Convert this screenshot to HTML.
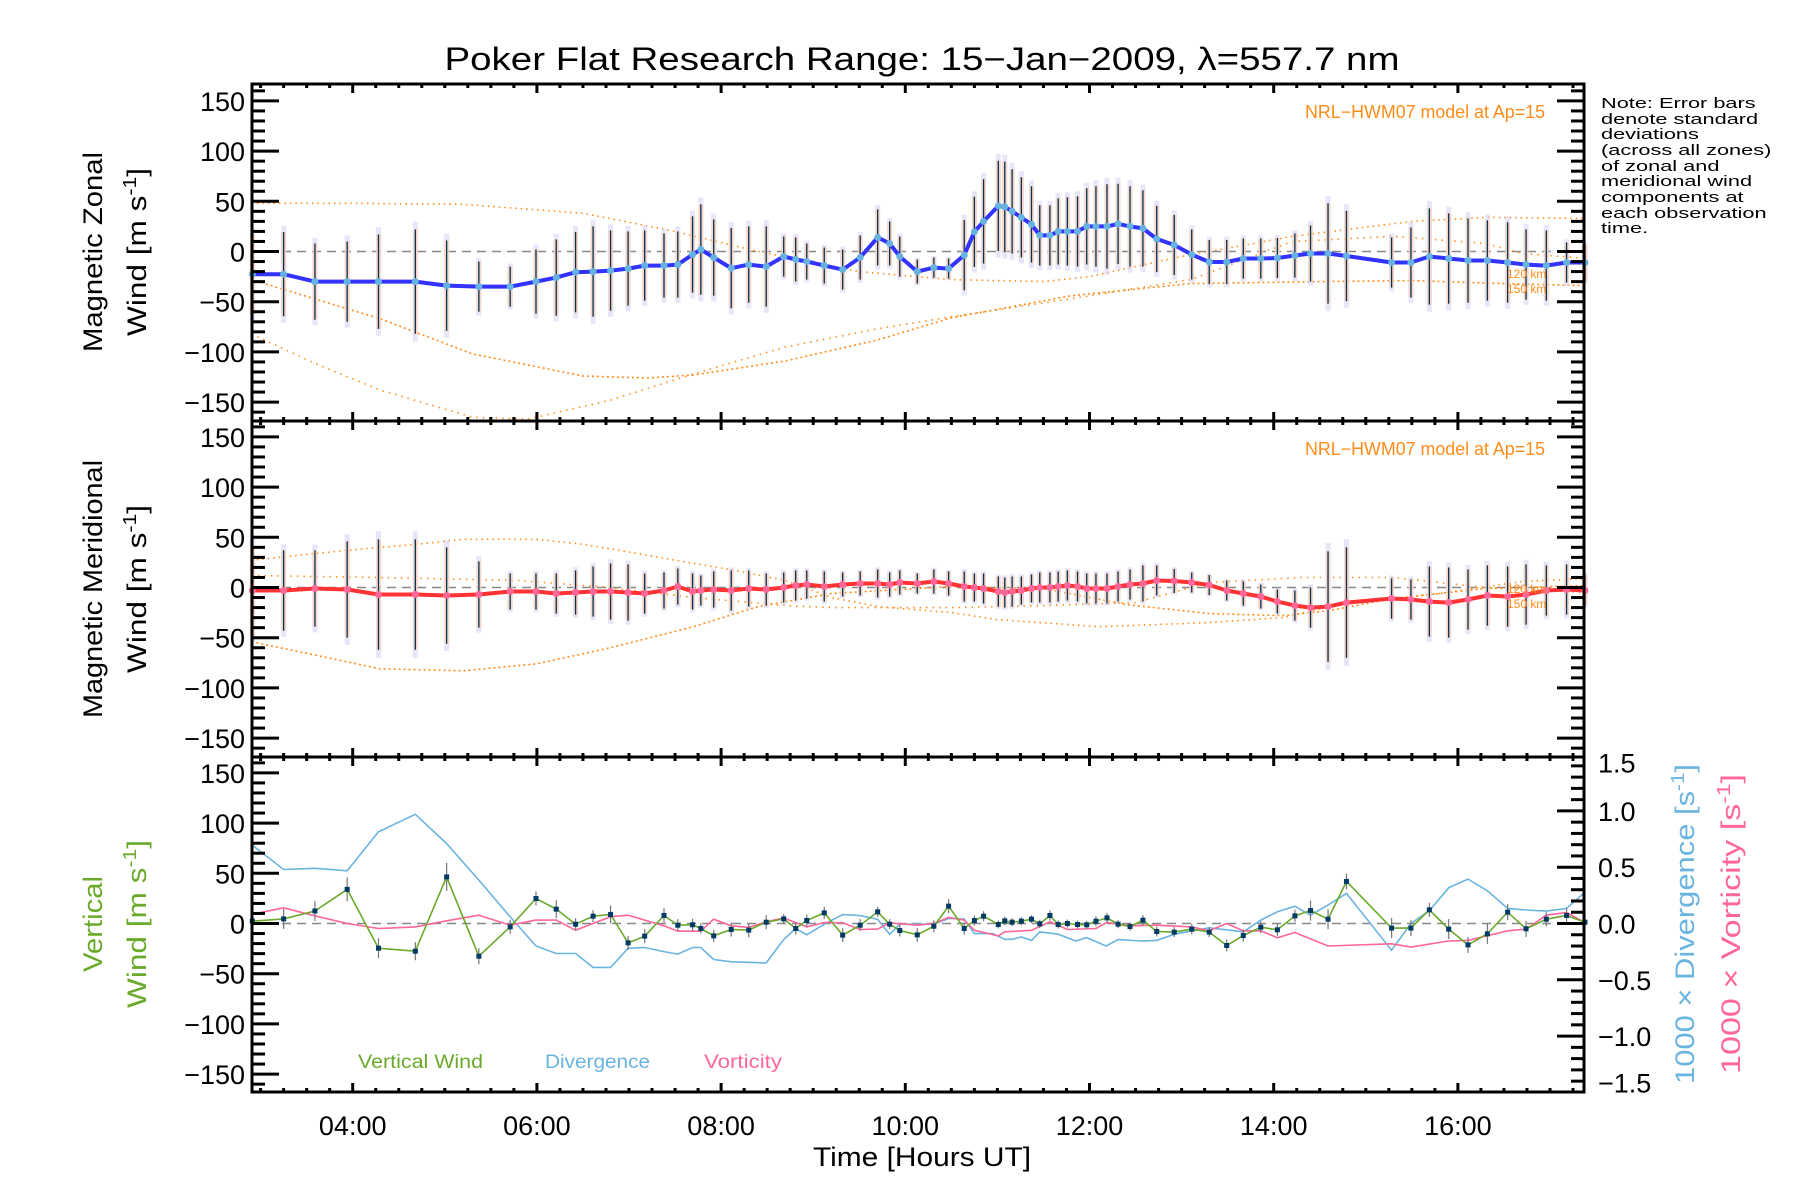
<!DOCTYPE html>
<html><head><meta charset="utf-8"><style>
html,body{margin:0;padding:0;background:#fff;}
svg{display:block;font-family:"Liberation Sans",sans-serif;}
</style></head><body>
<svg id="chart" width="1800" height="1200" viewBox="0 0 1800 1200" xmlns="http://www.w3.org/2000/svg">
<rect x="0" y="0" width="1800" height="1200" fill="#fff"/>
<text x="922" y="70" font-size="32" text-anchor="middle" textLength="955" lengthAdjust="spacingAndGlyphs">Poker Flat Research Range: 15−Jan−2009, λ=557.7 nm</text>
<g id="plots"></g>
<g id="axes"></g>
<text x="922" y="1166" font-size="27" text-anchor="middle" textLength="218" lengthAdjust="spacingAndGlyphs">Time [Hours UT]</text>
<g font-size="27" text-anchor="middle">
<text transform="translate(102,252) rotate(-90)" textLength="200" lengthAdjust="spacingAndGlyphs">Magnetic Zonal</text>
<text transform="translate(146,252) rotate(-90)" textLength="168" lengthAdjust="spacingAndGlyphs">Wind [m s<tspan font-size="18" dy="-10">-1</tspan><tspan dy="10">]</tspan></text>
</g>
<g font-size="27" text-anchor="middle">
<text transform="translate(102,589) rotate(-90)" textLength="258" lengthAdjust="spacingAndGlyphs">Magnetic Meridional</text>
<text transform="translate(146,589) rotate(-90)" textLength="168" lengthAdjust="spacingAndGlyphs">Wind [m s<tspan font-size="18" dy="-10">-1</tspan><tspan dy="10">]</tspan></text>
</g>
<g font-size="27" text-anchor="middle" fill="#6aaa2a">
<text transform="translate(102,924) rotate(-90)" textLength="96" lengthAdjust="spacingAndGlyphs">Vertical</text>
<text transform="translate(146,924) rotate(-90)" textLength="168" lengthAdjust="spacingAndGlyphs">Wind [m s<tspan font-size="18" dy="-10">-1</tspan><tspan dy="10">]</tspan></text>
</g>
<text transform="translate(1694,924) rotate(-90)" font-size="27" fill="#6ab4e0" text-anchor="middle" textLength="320" lengthAdjust="spacingAndGlyphs">1000 × Divergence [s<tspan font-size="18" dy="-10">-1</tspan><tspan dy="10">]</tspan></text>
<text transform="translate(1740,924) rotate(-90)" font-size="27" fill="#ff6699" text-anchor="middle" textLength="300" lengthAdjust="spacingAndGlyphs">1000 × Vorticity [s<tspan font-size="18" dy="-10">-1</tspan><tspan dy="10">]</tspan></text>
<g font-size="15" fill="#000" transform="translate(1601,0) scale(1.45,1)">
<text x="0" y="108">Note: Error bars</text>
<text x="0" y="124">denote standard</text>
<text x="0" y="139">deviations</text>
<text x="0" y="155">(across all zones)</text>
<text x="0" y="171">of zonal and</text>
<text x="0" y="186">meridional wind</text>
<text x="0" y="202">components at</text>
<text x="0" y="218">each observation</text>
<text x="0" y="233">time.</text>
</g>
<text x="1545" y="118" font-size="18" fill="#ff8c1a" text-anchor="end" textLength="240" lengthAdjust="spacingAndGlyphs">NRL−HWM07 model at Ap=15</text>
<text x="1545" y="455" font-size="18" fill="#ff8c1a" text-anchor="end" textLength="240" lengthAdjust="spacingAndGlyphs">NRL−HWM07 model at Ap=15</text>
<g font-size="12" fill="#ff8c1a">
<text x="1507" y="278">120 km</text><text x="1507" y="293">150 km</text>
<text x="1507" y="593">120 km</text><text x="1507" y="608">150 km</text>
</g>
<g font-size="19">
<text x="358" y="1068" fill="#6aaa2a" textLength="125" lengthAdjust="spacingAndGlyphs">Vertical Wind</text>
<text x="545" y="1068" fill="#6ab4e0" textLength="105" lengthAdjust="spacingAndGlyphs">Divergence</text>
<text x="704" y="1068" fill="#ff6699" textLength="78" lengthAdjust="spacingAndGlyphs">Vorticity</text>
</g>
</svg>
<script>
// ---- data ----
const times=[2.91,3.25,3.59,3.94,4.28,4.68,5.02,5.37,5.71,5.99,6.21,6.42,6.61,6.80,6.99,7.17,7.38,7.53,7.69,7.78,7.92,8.11,8.30,8.49,8.68,8.81,8.93,9.12,9.32,9.51,9.70,9.83,9.94,10.13,10.31,10.47,10.64,10.75,10.85,11.01,11.08,11.16,11.26,11.37,11.46,11.57,11.66,11.76,11.87,11.97,12.07,12.19,12.31,12.44,12.58,12.73,12.92,13.11,13.30,13.49,13.67,13.86,14.04,14.23,14.40,14.59,14.79,15.28,15.49,15.69,15.90,16.11,16.32,16.54,16.74,16.96,17.18,17.38];
const zonal=[-22.6,-22.6,-30,-30,-30,-30,-34,-35,-35,-30,-26,-20.6,-20,-19,-17,-14,-14,-13,-3,2,-6,-16.6,-13,-15,-5,-8,-10,-14,-18,-6,14,8,-5,-20,-16,-17,-3.6,19.6,30,45.4,44.5,40,34,27,16,16,20,20,20,25,25,25,27.5,25,23,12.5,6.5,-3,-10.5,-10.5,-7,-7,-6.5,-4,-2,-2,-4.5,-11,-11,-5,-7,-9,-9,-11,-13,-14,-11,-11];
const zonalErr=[40,42,38,40,47,52,45,25,20,32,38,40,45,40,37,35,32,33,38,45,38,40,38,40,20,22,18,18,20,22,28,22,20,12,10,10,35,35,42,45,45,42,40,38,30,30,33,34,35,38,40,42,40,40,38,33,30,25,22,22,20,20,20,22,28,50,45,25,35,48,45,42,40,40,35,35,20,18];
const merid=[-3,-3,-1,-2,-7,-7,-8,-7,-4,-4,-6,-5,-4,-4,-5,-6,-3,1,-4,-3,-2,-3,-1,-2,0,2,3,1,3,4,4,3,5,4,6,4,1,0,-1,-4,-5,-4,-3,-1,0,0,1,2,1,-1,-1,-1,1,3,4,7,6.5,5,2.5,-3,-6,-9,-14,-18,-20,-19,-15,-11,-12,-14,-15,-12,-8,-9,-7,-3,-2,-3];
const meridErr=[45,40,38,48,55,55,48,33,18,18,20,22,25,28,28,20,18,18,18,15,18,20,18,16,15,15,14,15,12,12,14,12,12,10,12,12,15,14,15,15,15,15,14,14,15,15,15,15,15,15,15,15,15,15,18,15,12,10,10,10,12,12,12,15,20,55,55,20,20,35,35,30,30,30,30,25,25,15];
const vert=[2.3,4.6,12.5,34,-24.6,-27.6,46.4,-32.6,-3.3,24.9,14.3,-0.7,7.3,9,-19.3,-12.6,8,-1.7,-1.3,-5,-12.3,-6,-6.6,1.3,4.6,-5,3,10.6,-11.6,-1.7,11.6,-0.7,-7,-11.3,-2.7,17.3,-5,3,7.3,-1,2.6,1.3,2.3,4.3,-0.3,8,-1,0,-1,-1.3,2.3,5.6,-0.7,-3,3.3,-8,-8.6,-5.6,-8.6,-21.9,-12,-3.7,-6.3,7.6,12.9,4.3,41.9,-4.6,-4.6,13.6,-5.6,-21.3,-10.3,11.3,-5.3,4.3,8,1.3];
const vertErr=[7,10,10,12,10,9,14,8,7,7,9,6,6,9,7,7,7,6,6,5,6,7,7,7,5,6,6,6,7,6,5,5,6,7,6,7,6,5,5,4,4,4,4,4,4,5,4,4,4,4,5,5,4,4,5,5,5,5,5,6,6,6,6,6,10,10,8,10,8,7,10,8,10,8,8,7,7,6];
const divT=[2.91,3.25,3.59,3.94,4.28,4.68,5.02,5.37,5.71,5.99,6.21,6.42,6.61,6.80,6.99,7.17,7.38,7.53,7.69,7.78,7.92,8.11,8.49,8.68,8.81,8.93,9.12,9.32,9.51,9.70,9.83,9.94,10.31,10.47,10.64,10.75,10.95,11.08,11.16,11.26,11.37,11.46,11.66,11.85,11.97,12.18,12.31,12.57,12.73,12.92,13.30,13.67,13.86,14.04,14.23,14.40,14.59,14.79,15.28,15.49,15.69,15.90,16.11,16.32,16.54,16.74,16.96,17.18,17.38];
const divV=[0.695,0.48,0.49,0.468,0.814,0.97,0.71,0.385,0.059,-0.2,-0.266,-0.266,-0.39,-0.39,-0.22,-0.213,-0.25,-0.272,-0.213,-0.213,-0.32,-0.34,-0.35,-0.142,-0.044,-0.1,-0.006,0.08,0.07,0.036,-0.095,-0.006,-0.006,0.044,0.04,-0.09,-0.09,-0.14,-0.14,-0.12,-0.15,-0.074,-0.095,-0.155,-0.125,-0.2,-0.143,-0.155,-0.15,-0.095,-0.038,-0.074,0.03,0.104,0.154,0.074,0.163,0.267,-0.237,0,0.113,0.317,0.394,0.29,0.134,0.12,0.11,0.134,0.28];
const vorT=[2.91,3.25,3.59,3.94,4.28,4.68,5.02,5.37,5.71,5.99,6.21,6.42,6.61,6.80,6.99,7.17,7.38,7.53,7.78,7.92,8.11,8.30,8.49,8.68,8.93,9.12,9.32,9.51,9.70,9.83,10.13,10.31,10.47,10.64,10.75,11.01,11.08,11.37,11.57,11.76,12.07,12.19,12.44,12.73,13.11,13.30,13.49,13.67,13.86,14.04,14.23,14.59,15.28,15.49,15.90,16.11,16.54,16.74,16.96,17.18,17.38];
const vorV=[0.083,0.139,0.068,0,-0.044,-0.03,0.024,0.074,-0.015,0.03,0.03,-0.06,0,0.06,0.074,0.03,-0.02,-0.068,-0.068,0.038,-0.02,-0.035,0.015,0.05,-0.03,0.009,0.006,-0.053,-0.05,0.006,-0.015,0,0.053,0.03,-0.06,-0.11,-0.074,-0.06,0.015,-0.053,-0.044,0.009,-0.02,-0.015,-0.03,-0.065,0,-0.065,-0.065,-0.127,-0.08,-0.2,-0.18,-0.21,-0.155,-0.15,-0.065,-0.05,0.074,0.098,0.009];
// model curves (NRL-HWM07)
const zModelAT=[2.9,4,5.2,6.5,7.5,8.4,9.5,10.5,11.5,12.0,13.0,14.2,15.5,16.3,17.4];
const zModelAV=[48,48,47,38,20,0,-20,-28,-30,-25,-5,15,30,34,33];
const zModelBT=[2.9,4.3,5.3,6.5,7.2,7.7,8.7,9.7,10.5,11.8,13.1,14.5,15.5,16.5,17.4];
const zModelBV=[-28,-67,-102,-124,-126,-123,-109,-88,-66,-44,-32,-30,-29,-32,-34];
const zModelCT=[2.9,3.6,4.3,5.3,5.9,6.8,7.7,8.7,9.7,10.5,11.8,13.1,14.2,15.3,16.3,16.7,17.4];
const zModelCV=[-82,-112,-138,-165,-167,-148,-122,-95,-77,-65,-47,-28,10,15,8,-2,-7];
const mModelAT=[2.9,3.6,4.3,4.7,5.2,6.0,6.5,6.9,7.7,8.15,8.7,9.2,9.7,10.5,11,12.1,13.3,14.1,14.7,15.8,16.7,17.4];
const mModelAV=[27,34,40,43,48,48,43,37,24,17,7,-10,-19,-25,-32,-39,-35,-30,-17,-6,6,9];
const mModelBT=[2.9,4.3,5.8,6.8,7.7,8.7,9.2,10.5,11.5,12.5,13.3,14.3,15.3,16.3,17.4];
const mModelBV=[12,10,7,0,-10,-18,-20,-20,-18,-15,5,10,10,0,-5];
const mModelCT=[2.9,4.3,5.2,6.0,6.8,7.7,8.4,9.2,10.5,11.5,12.4,13.3,14.1,14.6,15.3,16.3,17.4];
const mModelCV=[-54,-81,-83,-76,-60,-39,-19,-6,1,-1,-17,-26,-28,-23,-11,-1,2];
const yTicks=[150,100,50,0,-50,-100,-150];
const yTickLabels=["150","100","50","0","−50","−100","−150"];
const rTicks=[1.5,1.0,0.5,0.0,-0.5,-1.0,-1.5];
const rTickLabels=["1.5","1.0","0.5","0.0","−0.5","−1.0","−1.5"];
const xTicks=[4,6,8,10,12,14,16];
const xTickLabels=["04:00","06:00","08:00","10:00","12:00","14:00","16:00"];

// ---- scales ----
const X0=252,X1=1584;
const TOPS=[84,421,757], BOTS=[421,757,1092];
const CENT=[251.5,587.5,923.5];
const PX=1.004, RPX=112.6;
function xs(t){return 352.7+(t-4)*92.1;}
function ys(p,v){return CENT[p]-v*PX;}
function yr(v){return CENT[2]-v*RPX;}
const NS="http://www.w3.org/2000/svg";
const plots=document.getElementById('plots'), axes=document.getElementById('axes');
function mk(tag,attrs,parent){const e=document.createElementNS(NS,tag);for(const k in attrs)e.setAttribute(k,attrs[k]);(parent||plots).appendChild(e);return e;}
function poly(ts,vs,f){return ts.map((t,i)=>xs(t).toFixed(1)+','+f(vs[i]).toFixed(1)).join(' ');}

const defs=mk('defs',{});
for(let p=0;p<3;p++){const c=mk('clipPath',{id:'clip'+p},defs);mk('rect',{x:X0,y:TOPS[p],width:X1-X0,height:BOTS[p]-TOPS[p]},c);}

for(let p=0;p<3;p++){
  const z=mk('line',{x1:X0,x2:X1,y1:ys(p,0),y2:ys(p,0),stroke:'#888','stroke-width':1.5,'stroke-dasharray':'9,6'});
  
  
}

function model(p,ts,vs,dash,name){
  const g=mk('polyline',{points:poly(ts,vs,v=>ys(p,v)),fill:'none',stroke:'#ff8c1a','stroke-width':1.6,'stroke-dasharray':dash,'clip-path':'url(#clip'+p+')'});
  
  
}
model(0,zModelAT,zModelAV,'1.5,4','zonal-model-curve-a');
model(0,zModelBT,zModelBV,'2,3','zonal-model-curve-b');
model(0,zModelCT,zModelCV,'1.5,5','zonal-model-curve-c');
model(1,mModelAT,mModelAV,'1.5,4','meridional-model-curve-a');
model(1,mModelBT,mModelBV,'1.5,5','meridional-model-curve-b');
model(1,mModelCT,mModelCV,'2,3','meridional-model-curve-c');

function errPanel(p,vals,errs,name){
  for(let i=0;i<times.length;i++){
    const x=xs(times[i]);
    const b=mk('rect',{x:x-2.5,y:ys(p,vals[i]+errs[i]*1.15),width:5,height:errs[i]*2.3*PX,fill:'#d4ccf4',opacity:0.5});
    
    
    const b2=mk('rect',{x:x-2.5,y:ys(p,vals[i]+errs[i]),width:5,height:errs[i]*2*PX,fill:'#fcd2b8',opacity:0.7});
    
    
    const l=mk('line',{x1:x,x2:x,y1:ys(p,vals[i]+errs[i]),y2:ys(p,vals[i]-errs[i]),stroke:'#003355','stroke-width':1.3});
    
    
  }
}
errPanel(0,zonal,zonalErr,'zonal');
errPanel(1,merid,meridErr,'meridional');

const zl=mk('polyline',{points:poly(times,zonal,v=>ys(0,v)),fill:'none',stroke:'#3333ff','stroke-width':4,'stroke-linejoin':'round'});


const ml=mk('polyline',{points:poly(times,merid,v=>ys(1,v)),fill:'none',stroke:'#ff3333','stroke-width':4,'stroke-linejoin':'round'});


for(let i=0;i<times.length;i++){
  const c=mk('circle',{cx:xs(times[i]),cy:ys(0,zonal[i]),r:3.5,fill:'#66b3e0'});
  
  
  const d=mk('circle',{cx:xs(times[i]),cy:ys(1,merid[i]),r:3.5,fill:'#ff6699'});
  
  
}

const dl=mk('polyline',{points:poly(divT,divV,yr),fill:'none',stroke:'#6ab4e0','stroke-width':1.6,'clip-path':'url(#clip2)'});


const vl=mk('polyline',{points:poly(vorT,vorV,yr),fill:'none',stroke:'#ff6699','stroke-width':1.6,'clip-path':'url(#clip2)'});


for(let i=0;i<times.length;i++){
  const x=xs(times[i]);
  const e=mk('line',{x1:x,x2:x,y1:ys(2,vert[i]+vertErr[i]),y2:ys(2,vert[i]-vertErr[i]),stroke:'#777','stroke-width':1.2});
  
  
}
const wl=mk('polyline',{points:poly(times,vert,v=>ys(2,v)),fill:'none',stroke:'#6aaa2a','stroke-width':1.6});


for(let i=0;i<times.length;i++){
  const s=mk('rect',{x:xs(times[i])-2.5,y:ys(2,vert[i])-2.5,width:5,height:5,fill:'#003a66'});
  
  
}

// ---- axes ----
for(let p=0;p<3;p++){
  const f=mk('rect',{x:X0,y:TOPS[p],width:X1-X0,height:BOTS[p]-TOPS[p],fill:'none',stroke:'#000','stroke-width':3},axes);
  
  
  for(let v=-160;v<=160;v+=10){
    const y=ys(p,v); if(y<TOPS[p]+2||y>BOTS[p]-2) continue;
    const L=(v%50===0)?27:13;
    mk('line',{x1:X0,x2:X0+L,y1:y,y2:y,stroke:'#000','stroke-width':3},axes);
    if(p<2) mk('line',{x1:X1,x2:X1-L,y1:y,y2:y,stroke:'#000','stroke-width':3},axes);
  }
  yTicks.forEach((v,i)=>{
    const t=mk('text',{x:245,y:ys(p,v)+10,'font-size':27,'text-anchor':'end'},axes);
    t.textContent=yTickLabels[i];
    
    
  });
  for(let m=0;m*0.25+2.75<=17.5;m++){
    const t=2.75+m*0.25, x=xs(t); if(x<X0+2||x>X1-2) continue;
    const L=(Math.abs(t/2-Math.round(t/2))<1e-6)?9:4;
    mk('line',{x1:x,x2:x,y1:BOTS[p],y2:BOTS[p]-L,stroke:'#000','stroke-width':3},axes);
    mk('line',{x1:x,x2:x,y1:TOPS[p],y2:TOPS[p]+L,stroke:'#000','stroke-width':3},axes);
  }
}
for(let k=-16;k<=16;k++){
  const v=k/10, y=yr(v); if(y<TOPS[2]+2||y>BOTS[2]-2) continue;
  const L=(k%5===0)?27:13;
  mk('line',{x1:X1,x2:X1-L,y1:y,y2:y,stroke:'#000','stroke-width':3},axes);
}
rTicks.forEach((v,i)=>{
  let off=10; if(v>=1.5) off=18; if(v<=-1.5) off=0;
  const t=mk('text',{x:1598,y:yr(v)+off,'font-size':27},axes);
  t.textContent=rTickLabels[i];
  
  
});
xTicks.forEach((v,i)=>{
  const t=mk('text',{x:xs(v),y:1135,'font-size':27,'text-anchor':'middle'},axes);
  t.textContent=xTickLabels[i];
  
  
});
</script>
</body></html>
